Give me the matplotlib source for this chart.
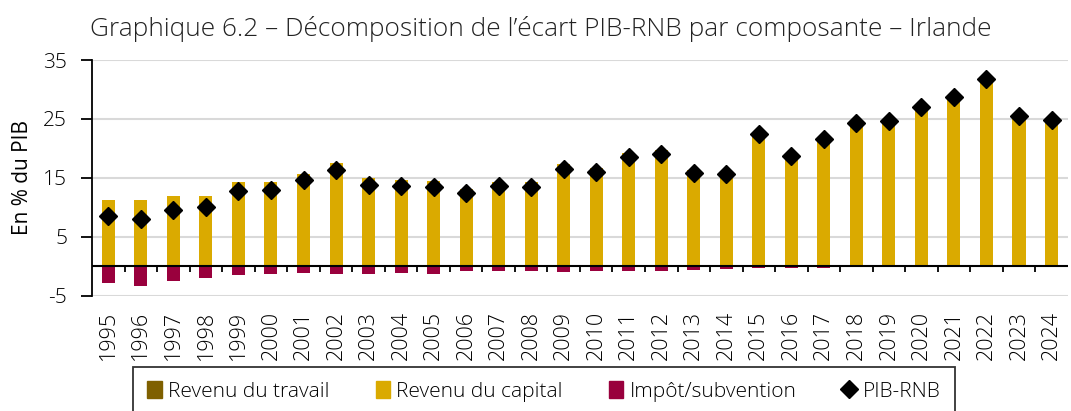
import numpy as np
import matplotlib.pyplot as plt
from matplotlib.lines import Line2D
from matplotlib.patches import Patch

plt.rcParams['font.family'] = ['Open Sans', 'DejaVu Sans']
plt.rcParams['font.weight'] = 'light'
plt.rcParams['axes.unicode_minus'] = False

years = [str(y) for y in range(1995, 2025)]
travail = [0.0] * 30
capital = [11.25, 11.25, 12.0, 12.0, 14.35, 14.25, 15.7, 17.5, 15.0, 14.7,
           14.5, 13.1, 14.3, 14.25, 17.35, 16.7, 19.2, 19.8, 16.4, 16.0,
           22.7, 18.85, 21.8, 24.4, 24.8, 27.1, 28.7, 31.75, 25.5, 24.85]
impot = [-2.8, -3.4, -2.4, -1.9, -1.5, -1.35, -1.07, -1.24, -1.2, -1.07,
         -1.2, -0.85, -0.7, -0.85, -0.9, -0.7, -0.85, -0.8, -0.6, -0.45,
         -0.3, -0.2, -0.2, -0.1, -0.05, 0.0, 0.0, 0.0, 0.0, 0.0]
pib_rnb = [8.5, 8.0, 9.5, 10.1, 12.8, 12.9, 14.7, 16.3, 13.85, 13.7,
           13.45, 12.4, 13.6, 13.45, 16.5, 16.0, 18.5, 19.1, 15.8, 15.6,
           22.4, 18.65, 21.6, 24.3, 24.7, 27.1, 28.7, 31.75, 25.5, 24.85]

c_trav = '#7F6000'
c_cap = '#DAAA00'
c_imp = '#99003D'

x = np.arange(len(years))
fig = plt.figure(figsize=(10.71, 4.11), dpi=100)
ax = fig.add_axes([0.086, 0.280, 0.911, 0.574])

w = 0.4
ax.bar(x, travail, w, color=c_trav, zorder=2)
ax.bar(x, capital, w, bottom=travail, color=c_cap, zorder=2)
ax.bar(x, impot, w, color=c_imp, zorder=2)
ax.plot(x, pib_rnb, 'D', color='black', markersize=9, zorder=4)

# zero line with separator ticks between years
ax.axhline(0, color='black', lw=1.5, zorder=3)
ax.vlines(x[:-1] + 0.5, -0.9, 0, color='black', lw=1.3, zorder=3)

ax.set_xlim(-0.5, len(years) - 0.5)
ax.set_ylim(-5, 35)
ax.set_yticks([-5, 5, 15, 25, 35])
ax.yaxis.grid(True, color='#d9d9d9', lw=1.5, zorder=0)
ax.set_axisbelow(True)
for s in ['top', 'right', 'bottom']:
    ax.spines[s].set_visible(False)
ax.spines['left'].set_linewidth(1.3)
ax.tick_params(axis='y', labelsize=15, length=8, width=1.3, pad=10)
ax.set_xticks(x)
ax.set_xticklabels(years, rotation=90, fontsize=15.5)
ax.tick_params(axis='x', length=0, pad=11)

ax.set_ylabel('En % du PIB', fontsize=15, labelpad=7)
fig.text(0.084, 0.93, 'Graphique 6.2 – Décomposition de l\u2019écart PIB-RNB par composante – Irlande',
         fontsize=18.9, ha='left', va='center', color='#222222')

handles = [Patch(color=c_trav, label='Revenu du travail'),
           Patch(color=c_cap, label='Revenu du capital'),
           Patch(color=c_imp, label='Impôt/subvention'),
           Line2D([], [], marker='D', color='black', ls='none', markersize=9, label='PIB-RNB')]
leg = fig.legend(handles=handles, loc='upper center', bbox_to_anchor=(0.508, 0.108), ncol=4,
                 fontsize=15, frameon=True, fancybox=False, edgecolor='black',
                 handlelength=0.7, handleheight=0.9, handletextpad=0.3, columnspacing=2.2,
                 borderpad=0.7, borderaxespad=0)
leg.get_frame().set_linewidth(1.3)

fig.savefig('out.png', dpi=100)
